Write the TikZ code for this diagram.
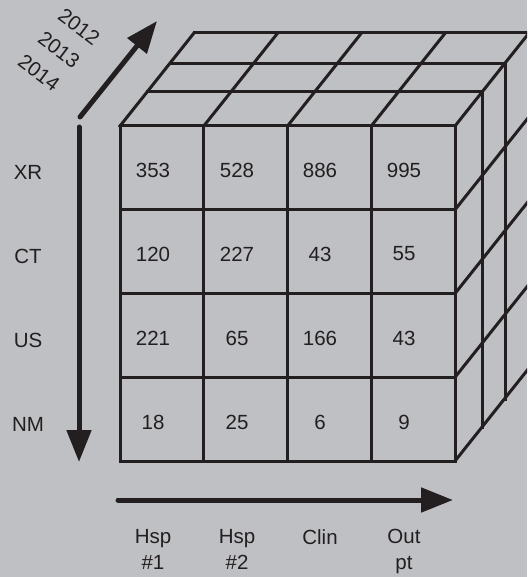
\documentclass[tikz,border=0pt]{standalone}
\usepackage{fontspec}
\setmainfont{Liberation Sans}
\usepackage{xcolor}
\usepackage{tikz}
\usetikzlibrary{arrows.meta, positioning}
\definecolor{cubegray}{RGB}{190, 192, 195}
\definecolor{inkblack}{RGB}{35, 31, 32}

\begin{document}
\begin{tikzpicture}[x=1pt, y=-1pt,
    cubeline/.style={draw=inkblack, line width=3pt, line cap=rect},
    axisarrow/.style={draw=inkblack, line width=5pt, line cap=round,
        -{Triangle[length=32pt, width=24pt]}},
    celltext/.style={font=\fontsize{20.5}{26}\selectfont, text=inkblack, inner sep=0pt},
    axislabel/.style={font=\fontsize{20.5}{26}\selectfont, text=inkblack, inner sep=0pt, align=center}]

    % Background box
    \fill[cubegray] (0,0) rectangle (527,577);
    \useasboundingbox (0,0) rectangle (527,577);

    % Cube
    \begin{scope}
        \clip (0,0) rectangle (527,577);
        % front face
        \draw[cubeline] (120,126) rectangle (455,461);
        \draw[cubeline] (203.75,126) -- (203.75,461) (287.5,126) -- (287.5,461)
            (371.25,126) -- (371.25,461);
        \draw[cubeline] (120,209.75) -- (455,209.75) (120,293.5) -- (455,293.5)
            (120,377.25) -- (455,377.25);
        % top face
        \draw[cubeline] (147.5,92) -- (482.5,92) (170.5,64) -- (505.5,64)
            (194,33) -- (529,33);
        \draw[cubeline] (120,126) -- (194,33) (203.75,126) -- (277.75,33)
            (287.5,126) -- (361.5,33) (371.25,126) -- (445.25,33)
            (455,126) -- (529,33);
        % right face
        \draw[cubeline] (482.5,92) -- (482.5,427) (505.5,64) -- (505.5,399)
            (529,33) -- (529,368);
        \draw[cubeline] (455,209.75) -- (529,116.75) (455,293.5) -- (529,200.5)
            (455,377.25) -- (529,284.25) (455,461) -- (529,368);
    \end{scope}

    % Cell values
    \node[celltext] (xr1) at (153,170) {353};
    \node[celltext] (xr2) at (237,170) {528};
    \node[celltext] (xr3) at (320,170) {886};
    \node[celltext] (xr4) at (404,170) {995};
    \node[celltext] (ct1) at (153,254) {120};
    \node[celltext] (ct2) at (237,254) {227};
    \node[celltext] (ct3) at (320,254) {43};
    \node[celltext] (ct4) at (404,254) {55};
    \node[celltext] (us1) at (153,338) {221};
    \node[celltext] (us2) at (237,338) {65};
    \node[celltext] (us3) at (320,338) {166};
    \node[celltext] (us4) at (404,338) {43};
    \node[celltext] (nm1) at (153,422) {18};
    \node[celltext] (nm2) at (237,422) {25};
    \node[celltext] (nm3) at (320,422) {6};
    \node[celltext] (nm4) at (404,422) {9};

    % Row labels
    \node[axislabel] (xr) at (28,172) {XR};
    \node[axislabel] (ct) at (28,256) {CT};
    \node[axislabel] (us) at (28,340) {US};
    \node[axislabel] (nm) at (28,424) {NM};

    % Column labels
    \node[axislabel, anchor=north] (hsp1) at (153,529) {Hsp\\\#1};
    \node[axislabel, anchor=north] (hsp2) at (237,529) {Hsp\\\#2};
    \node[axislabel, anchor=north] (clin) at (320,529) {Clin};
    \node[axislabel, anchor=north] (outpt) at (404,529) {Out\\pt};

    % Year labels
    \node[axislabel, rotate=-37] (y2012) at (79,27) {2012};
    \node[axislabel, rotate=-37] (y2013) at (59,50) {2013};
    \node[axislabel, rotate=-37] (y2014) at (39,73) {2014};

    % Axis arrows
    \coordinate (depthstart) at (80,117);
    \coordinate (depthend) at (157,21);
    \coordinate (rowstart) at (79,127);
    \coordinate (rowend) at (79,462);
    \coordinate (colstart) at (118,500);
    \coordinate (colend) at (453,500);
    \draw[axisarrow] (depthstart) -- (depthend);
    \draw[axisarrow] (rowstart) -- (rowend);
    \draw[axisarrow] (colstart) -- (colend);
\end{tikzpicture}
\end{document}
